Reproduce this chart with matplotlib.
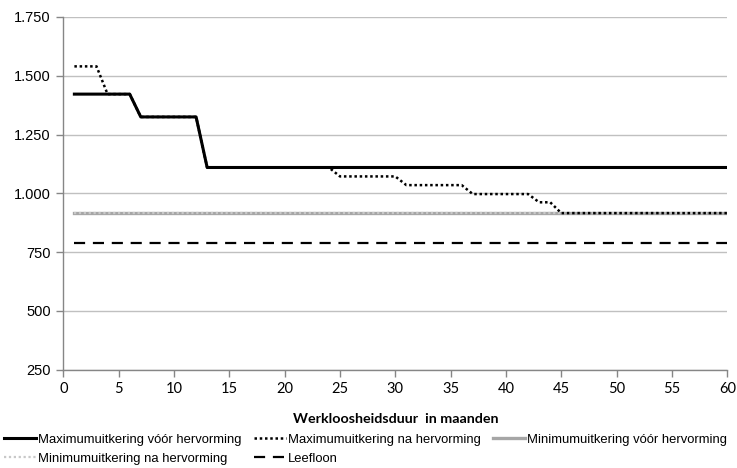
import matplotlib
matplotlib.use("Agg")
import matplotlib.pyplot as plt
from matplotlib.ticker import FuncFormatter

# months 1..60
months = list(range(1, 61))

max_voor = [1422, 1422, 1422, 1422, 1422, 1422, 1325, 1325, 1325, 1325, 1325, 1325,
            1110, 1110, 1110, 1110, 1110, 1110, 1110, 1110, 1110, 1110, 1110, 1110,
            1110, 1110, 1110, 1110, 1110, 1110, 1110, 1110, 1110, 1110, 1110, 1110,
            1110, 1110, 1110, 1110, 1110, 1110, 1110, 1110, 1110, 1110, 1110, 1110,
            1110, 1110, 1110, 1110, 1110, 1110, 1110, 1110, 1110, 1110, 1110, 1110]

max_na = [1540, 1540, 1540, 1422, 1422, 1422, 1325, 1325, 1325, 1325, 1325, 1325,
          1110, 1110, 1110, 1110, 1110, 1110, 1110, 1110, 1110, 1110, 1110, 1110,
          1072, 1072, 1072, 1072, 1072, 1072, 1035, 1035, 1035, 1035, 1035, 1035,
          997, 997, 997, 997, 997, 997, 962, 962, 916, 916, 916, 916,
          916, 916, 916, 916, 916, 916, 916, 916, 916, 916, 916, 916]

min_voor = [916] * 60
min_na = [916] * 60
leefloon = [787] * 60

labels = ["Maximumuitkering vóór hervorming",
          "Maximumuitkering na hervorming",
          "Minimumuitkering vóór hervorming",
          "Minimumuitkering na hervorming",
          "Leefloon"]

sans = ["Liberation Sans", "DejaVu Sans"]

fig = plt.figure(figsize=(7.37, 4.68), dpi=100)
ax = fig.add_axes([0.0859, 0.21, 0.9009, 0.7537])

h1, = ax.plot(months, max_voor, color="black", lw=2.2, zorder=4)
h2, = ax.plot(months, max_na, color="black", lw=1.8, linestyle=(0, (1, 1.1)), zorder=5)
h3, = ax.plot(months, min_voor, color="#a6a6a6", lw=2.4, zorder=3)
h4, = ax.plot(months, min_na, color="#c8c8c8", lw=1.6, linestyle=(0, (1, 1.2)), zorder=3.5)
h5, = ax.plot(months, leefloon, color="black", lw=1.6, linestyle=(0, (5, 3.5)), zorder=3)

ax.set_xlim(0, 60)
ax.set_ylim(250, 1750)
ax.set_xticks(range(0, 61, 5))
ax.set_yticks(range(250, 1751, 250))
ax.yaxis.set_major_formatter(FuncFormatter(lambda v, p: f"{int(v):,}".replace(",", ".")))

ax.yaxis.grid(True, color="#c0c0c0", lw=1)
ax.set_axisbelow(True)
for s in ["top", "right"]:
    ax.spines[s].set_visible(False)
for s in ["left", "bottom"]:
    ax.spines[s].set_color("#868686")
    ax.spines[s].set_linewidth(1)
ax.tick_params(axis="both", color="#868686", length=5, width=1)
ax.tick_params(axis="y", labelsize=10.5, pad=4)
ax.tick_params(axis="x", labelsize=10.5, pad=4)
for t in ax.get_yticklabels():
    t.set_family(sans)
for t in ax.get_xticklabels():
    t.set_family(["Lato", "DejaVu Sans"])

ax.set_xlabel("Werkloosheidsduur  in maanden", fontsize=10.3, fontweight="bold",
              family=["Lato", "DejaVu Sans"], labelpad=12)

# legend rows: reorder so column-major fill gives row-major layout
handles = [h1, h4, h2, h5, h3]
order = [labels[0], labels[3], labels[1], labels[4], labels[2]]
leg = fig.legend(handles, order, ncol=3, loc="upper left", bbox_to_anchor=(0.006, 0.074),
                 frameon=False, prop={"family": sans, "size": 9.4},
                 handlelength=2.4, handletextpad=0.15, columnspacing=1.0,
                 labelspacing=0.55, borderaxespad=0, borderpad=0)

fig.savefig("out.png", dpi=100)
